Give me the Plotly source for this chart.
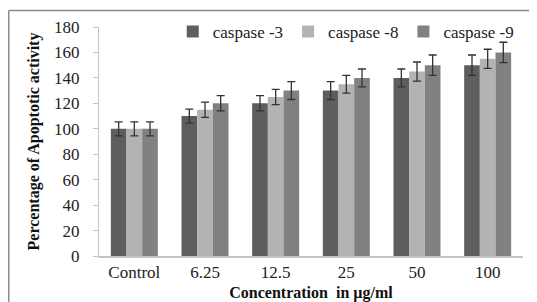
import plotly.graph_objects as go

categories = ["Control", "6.25", "12.5", "25", "50", "100"]
series_names = ["caspase -3", "caspase -8", "caspase -9"]
casp3 = [100, 110, 120, 130, 140, 150]
casp8 = [100, 115, 125, 135, 145, 155]
casp9 = [100, 120, 130, 140, 150, 160]
err3 = [5.5, 5.5, 6, 7, 7, 8]
err8 = [5.5, 6, 6, 7, 7.5, 7.5]
err9 = [5.5, 6, 7, 7, 8, 8]
y_ticks = [0, 20, 40, 60, 80, 100, 120, 140, 160, 180]

colors = ["#5e5e5e", "#b3b3b3", "#818181"]
FONT = "Liberation Serif, Times New Roman, serif"

fig = go.Figure()
for name, vals, errs, col in zip(series_names, [casp3, casp8, casp9], [err3, err8, err9], colors):
    fig.add_trace(go.Bar(
        name=name, x=categories, y=vals, marker_color=col,
        marker_line_width=0,
        error_y=dict(type="data", array=errs, visible=True, color="#333333",
                     thickness=1.3, width=4),
    ))

# the page body adds an 8px offset, so the figure is sized to fill the rest of the window
fig.update_layout(
    width=529, height=294,
    margin=dict(l=91, r=14, t=19, b=46, autoexpand=False),
    paper_bgcolor="white", plot_bgcolor="white",
    barmode="group", bargap=0.335, bargroupgap=0,
    font=dict(family=FONT, size=17, color="#222222"),
    showlegend=True,
    legend=dict(orientation="h", x=0.99, xanchor="right", y=0.978, yanchor="middle",
                font=dict(family=FONT, size=17, color="#222222"),
                bgcolor="rgba(0,0,0,0)", itemwidth=30, traceorder="normal"),
    xaxis=dict(
        showline=True, linecolor="#c4c4c4", linewidth=2,
        ticks="", showgrid=False, zeroline=False,
        tickfont=dict(family=FONT, size=17, color="#222222"),
        title=dict(text="<b>Concentration\u00a0 in µg/ml</b>", standoff=9,
                   font=dict(family=FONT, size=16, color="#111111")),
    ),
    yaxis=dict(
        range=[0, 180], tickvals=y_ticks,
        showline=True, linecolor="#c4c4c4", linewidth=1,
        ticks="outside", ticklen=5, tickcolor="#c4c4c4",
        ticklabelstandoff=10,
        showgrid=False, zeroline=False,
        tickfont=dict(family=FONT, size=17, color="#222222"),
        title=dict(text="<b>Percentage of Apoptotic activity</b>", standoff=10,
                   font=dict(family=FONT, size=16, color="#111111")),
    ),
    shapes=[
        dict(type="line", xref="paper", yref="paper", x0=-0.2129, x1=1.04, y0=1.0719, y1=1.0719,
             line=dict(color="#8a8a8a", width=1.5)),
        dict(type="line", xref="paper", yref="paper", x0=-0.2129, x1=-0.2129, y0=1.0719, y1=-0.25,
             line=dict(color="#8a8a8a", width=1.5)),
    ],
)

fig.write_html("out.html")
